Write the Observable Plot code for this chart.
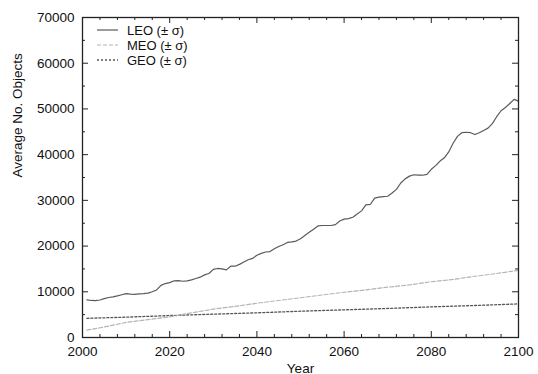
<!DOCTYPE html>
<html>
<head>
<meta charset="utf-8">
<script src="https://cdn.jsdelivr.net/npm/d3@7"></script>
<script src="https://cdn.jsdelivr.net/npm/@observablehq/plot@0.6"></script>
<style>
  html, body { margin: 0; padding: 0; background: #fff; }
  #wrap { position: relative; width: 538px; height: 374px; font-family: "Liberation Sans", Arial, sans-serif; }
  #legend { position: absolute; left: 0; top: 0; }
</style>
</head>
<body>
<div id="wrap"></div>
<script>
const leoYears = [2001,2002,2003,2004,2005,2006,2007,2008,2009,2010,2011,2012,2013,2014,2015,2016,2017,2018,2019,2020,2021,2022,2023,2024,2025,2026,2027,2028,2029,2030,2031,2032,2033,2034,2035,2036,2037,2038,2039,2040,2041,2042,2043,2044,2045,2046,2047,2048,2049,2050,2051,2052,2053,2054,2055,2056,2057,2058,2059,2060,2061,2062,2063,2064,2065,2066,2067,2068,2069,2070,2071,2072,2073,2074,2075,2076,2077,2078,2079,2080,2081,2082,2083,2084,2085,2086,2087,2088,2089,2090,2091,2092,2093,2094,2095,2096,2097,2098,2099,2100];
const leoValues = [8250,8100,8050,8200,8500,8750,8900,9100,9350,9600,9500,9450,9550,9600,9700,10000,10400,11400,11800,12000,12400,12450,12300,12400,12600,12900,13200,13700,14000,14900,15100,15000,14800,15600,15600,16000,16500,17000,17300,18000,18400,18700,18800,19400,19900,20300,20800,20900,21100,21600,22300,23000,23700,24400,24500,24500,24500,24700,25500,25900,26000,26300,27000,27700,29000,29100,30500,30700,30800,30900,31600,32400,33800,34700,35300,35600,35500,35500,35700,36800,37600,38600,39300,40600,42500,44000,44800,44900,44800,44400,44800,45300,45800,46800,48300,49600,50300,51200,52100,51700];

const meoYears = [2001,2005,2010,2015,2020,2025,2030,2035,2040,2045,2050,2055,2060,2065,2070,2075,2080,2085,2090,2095,2100];
const meoValues = [1600,2300,3300,3900,4500,5400,6200,6800,7500,8100,8700,9300,9900,10400,11000,11500,12200,12700,13400,14000,14700];

const geoYears = [2001,2010,2020,2030,2040,2050,2060,2070,2080,2090,2100];
const geoValues = [4200,4450,4800,5100,5400,5750,6050,6350,6700,7000,7350];

const xMajor = [2000,2020,2040,2060,2080,2100];
const xMinor = [2004,2008,2012,2016,2024,2028,2032,2036,2044,2048,2052,2056,2064,2068,2072,2076,2084,2088,2092,2096];
const yMajor = [0,10000,20000,30000,40000,50000,60000,70000];
const yMinor = [5000,15000,25000,35000,45000,55000,65000];

const seriesNames = ["LEO (\u00b1 \u03c3)", "MEO (\u00b1 \u03c3)", "GEO (\u00b1 \u03c3)"];

const leo = leoYears.map((y, i) => ({year: y, value: leoValues[i]}));
const meo = meoYears.map((y, i) => ({year: y, value: meoValues[i]}));
const geo = geoYears.map((y, i) => ({year: y, value: geoValues[i]}));

const W = 538, H = 374, mL = 82, mR = 20, mT = 17, mB = 37;
const ph = H - mT - mB, pw = W - mL - mR;
const maj = 6, mnr = 3;

const styles = [
  {stroke: "#5a5a5a", strokeWidth: 1.2, dash: null},
  {stroke: "#b4b4b4", strokeWidth: 1.2, dash: "4,2"},
  {stroke: "#555", strokeWidth: 1.3, dash: "2,2"}
];

const chart = Plot.plot({
  width: W, height: H,
  marginLeft: mL, marginRight: mR, marginTop: mT, marginBottom: mB,
  style: {fontFamily: "'Liberation Sans', Arial, sans-serif", background: "#fff"},
  x: {domain: [2000, 2100]},
  y: {domain: [0, 70000]},
  marks: [
    Plot.line(geo, {x: "year", y: "value", stroke: styles[2].stroke, strokeWidth: styles[2].strokeWidth, strokeDasharray: styles[2].dash}),
    Plot.line(meo, {x: "year", y: "value", stroke: styles[1].stroke, strokeWidth: styles[1].strokeWidth, strokeDasharray: styles[1].dash}),
    Plot.line(leo, {x: "year", y: "value", stroke: styles[0].stroke, strokeWidth: styles[0].strokeWidth}),
    // inward ticks, all four sides
    Plot.tickX(xMajor, {x: d => d, insetTop: ph - maj, stroke: "#222"}),
    Plot.tickX(xMajor, {x: d => d, insetBottom: ph - maj, stroke: "#222"}),
    Plot.tickX(xMinor, {x: d => d, insetTop: ph - mnr, stroke: "#222"}),
    Plot.tickX(xMinor, {x: d => d, insetBottom: ph - mnr, stroke: "#222"}),
    Plot.tickY(yMajor, {y: d => d, insetRight: pw - maj, stroke: "#222"}),
    Plot.tickY(yMajor, {y: d => d, insetLeft: pw - maj, stroke: "#222"}),
    Plot.tickY(yMinor, {y: d => d, insetRight: pw - mnr, stroke: "#222"}),
    Plot.tickY(yMinor, {y: d => d, insetLeft: pw - mnr, stroke: "#222"}),
    Plot.axisX(xMajor, {tickSize: 0, tickPadding: 9, fontSize: 13.5, tickFormat: d => String(d), label: null, fill: "#111"}),
    Plot.axisY(yMajor, {tickSize: 0, tickPadding: 8, fontSize: 13.5, tickFormat: d => String(d), label: null, fill: "#111"}),
    Plot.frame({stroke: "#222", strokeWidth: 1.3}),
    Plot.text(["Year"], {frameAnchor: "bottom", dy: 35, fontSize: 13.5, fill: "#111"}),
    Plot.text(["Average No. Objects"], {frameAnchor: "left", dx: -65, rotate: -90, fontSize: 13.5, fill: "#111"})
  ]
});

const wrap = document.getElementById("wrap");
wrap.appendChild(chart);

// Legend overlay (inside plot, top-left)
const ns = "http://www.w3.org/2000/svg";
const lg = document.createElementNS(ns, "svg");
lg.setAttribute("id", "legend");
lg.setAttribute("width", 200);
lg.setAttribute("height", 80);
lg.style.left = "90px";
lg.style.top = "20px";
seriesNames.forEach((name, i) => {
  const yy = 10 + i * 15;
  const ln = document.createElementNS(ns, "line");
  ln.setAttribute("x1", 7); ln.setAttribute("x2", 28);
  ln.setAttribute("y1", yy); ln.setAttribute("y2", yy);
  ln.setAttribute("stroke", styles[i].stroke);
  ln.setAttribute("stroke-width", styles[i].strokeWidth);
  if (styles[i].dash) ln.setAttribute("stroke-dasharray", styles[i].dash);
  lg.appendChild(ln);
  const tx = document.createElementNS(ns, "text");
  tx.setAttribute("x", 37); tx.setAttribute("y", yy);
  tx.setAttribute("dy", "0.35em");
  tx.setAttribute("font-size", "13");
  tx.setAttribute("font-family", "'Liberation Sans', Arial, sans-serif");
  tx.setAttribute("fill", "#111");
  tx.textContent = name;
  lg.appendChild(tx);
});
wrap.appendChild(lg);
</script>
</body>
</html>
